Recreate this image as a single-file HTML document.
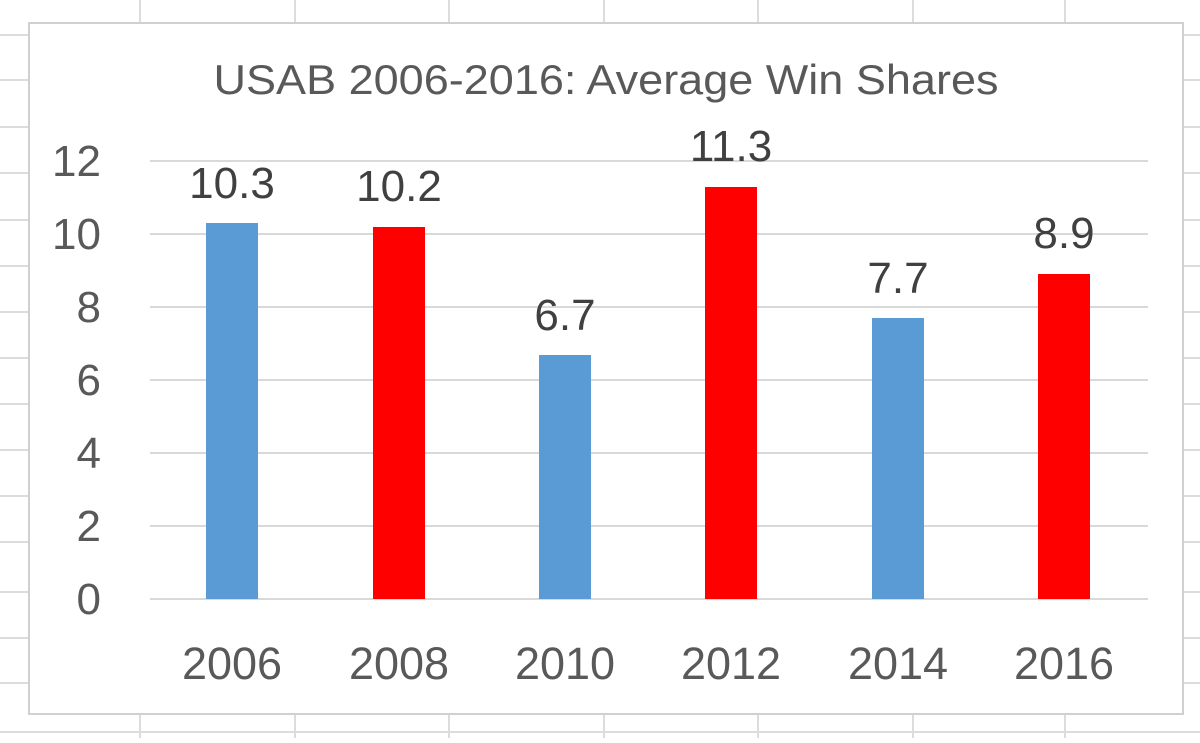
<!DOCTYPE html>
<html><head><style>body{margin:0;background:#fff}</style></head><body>
<svg width="1200" height="738" viewBox="0 0 1200 738" xmlns="http://www.w3.org/2000/svg" font-family="Liberation Sans, sans-serif">
<g stroke="#dcdcdc" stroke-width="2">
<line x1="0" y1="35" x2="1200" y2="35"/><line x1="0" y1="80" x2="1200" y2="80"/><line x1="0" y1="127" x2="1200" y2="127"/><line x1="0" y1="173" x2="1200" y2="173"/><line x1="0" y1="220" x2="1200" y2="220"/><line x1="0" y1="266" x2="1200" y2="266"/><line x1="0" y1="312" x2="1200" y2="312"/><line x1="0" y1="358" x2="1200" y2="358"/><line x1="0" y1="404" x2="1200" y2="404"/><line x1="0" y1="450" x2="1200" y2="450"/><line x1="0" y1="496" x2="1200" y2="496"/><line x1="0" y1="542" x2="1200" y2="542"/><line x1="0" y1="592" x2="1200" y2="592"/><line x1="0" y1="638" x2="1200" y2="638"/><line x1="0" y1="683" x2="1200" y2="683"/><line x1="0" y1="732" x2="1200" y2="732"/>
<line x1="140" y1="0" x2="140" y2="738"/><line x1="295" y1="0" x2="295" y2="738"/><line x1="449" y1="0" x2="449" y2="738"/><line x1="604" y1="0" x2="604" y2="738"/><line x1="758" y1="0" x2="758" y2="738"/><line x1="913" y1="0" x2="913" y2="738"/><line x1="1065" y1="0" x2="1065" y2="738"/>
</g>
<rect x="29" y="23" width="1154" height="691" fill="#fff" stroke="#d0d0d0" stroke-width="2"/>
<g stroke="#d9d9d9" stroke-width="2">
<line x1="150" y1="161" x2="1148" y2="161"/><line x1="150" y1="234" x2="1148" y2="234"/><line x1="150" y1="307" x2="1148" y2="307"/><line x1="150" y1="380" x2="1148" y2="380"/><line x1="150" y1="453" x2="1148" y2="453"/><line x1="150" y1="526" x2="1148" y2="526"/><line x1="150" y1="599" x2="1148" y2="599"/>
</g>
<text x="606" y="94" font-size="42" fill="#595959" text-anchor="middle" textLength="785" lengthAdjust="spacingAndGlyphs">USAB 2006-2016: Average Win Shares</text>
<g font-size="44" fill="#595959" text-anchor="end">
<text x="101" y="176">12</text><text x="101" y="249">10</text><text x="101" y="322">8</text><text x="101" y="395">6</text><text x="101" y="468">4</text><text x="101" y="541">2</text><text x="101" y="614">0</text>
</g>
<rect x="206" y="223" width="52" height="376" fill="#5b9bd5"/>
<rect x="373" y="227" width="52" height="372" fill="#ff0000"/>
<rect x="539" y="355" width="52" height="244" fill="#5b9bd5"/>
<rect x="705" y="187" width="52" height="412" fill="#ff0000"/>
<rect x="872" y="318" width="52" height="281" fill="#5b9bd5"/>
<rect x="1038" y="274" width="52" height="325" fill="#ff0000"/>
<g font-size="44" fill="#404040" text-anchor="middle">
<text x="232" y="198">10.3</text><text x="399" y="201">10.2</text><text x="565" y="330">6.7</text><text x="731" y="161">11.3</text><text x="898" y="293">7.7</text><text x="1064" y="248">8.9</text>
</g>
<g font-size="45" fill="#595959" text-anchor="middle">
<text x="232" y="679">2006</text><text x="399" y="679">2008</text><text x="565" y="679">2010</text><text x="731" y="679">2012</text><text x="898" y="679">2014</text><text x="1064" y="679">2016</text>
</g>
</svg>
</body></html>
